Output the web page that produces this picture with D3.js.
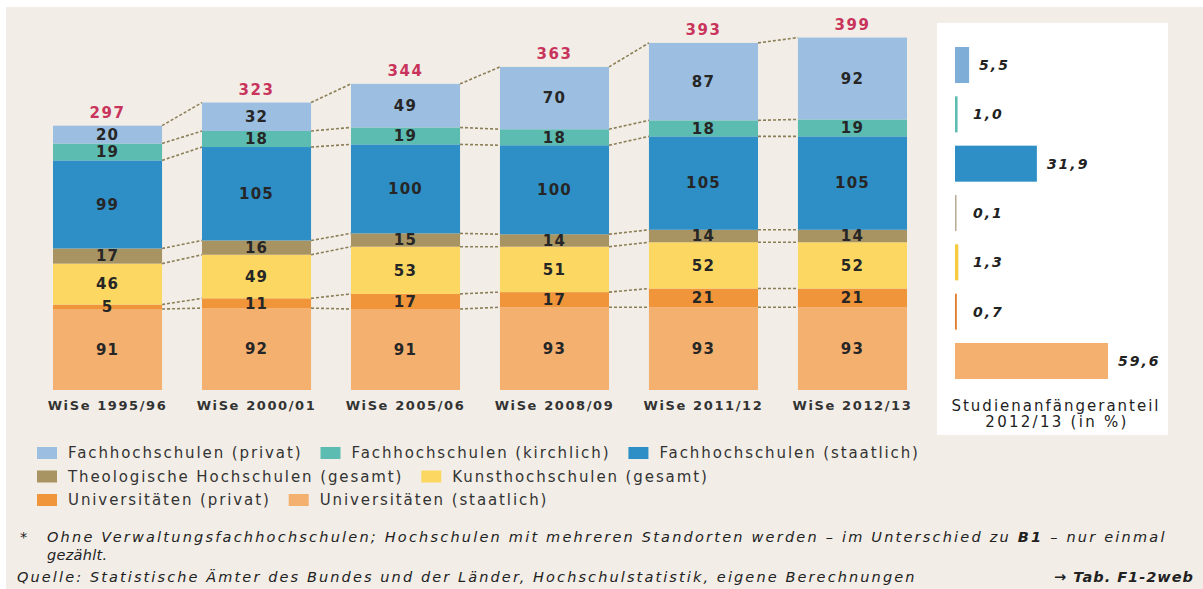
<!DOCTYPE html>
<html>
<head>
<meta charset="utf-8">
<script src="https://cdn.jsdelivr.net/npm/d3@7"></script>
<style>
  body { margin: 0; background: #fff; }
  svg { display: block; }
  text { font-family: "DejaVu Sans", sans-serif; }
</style>
</head>
<body>
<svg id="chart" width="1203" height="589"></svg>
<script>
// data
const semesters = ["WiSe 1995/96", "WiSe 2000/01", "WiSe 2005/06", "WiSe 2008/09", "WiSe 2011/12", "WiSe 2012/13"];
const seriesNames = [
    "Universitäten (staatlich)",
    "Universitäten (privat)",
    "Kunsthochschulen (gesamt)",
    "Theologische Hochschulen (gesamt)",
    "Fachhochschulen (staatlich)",
    "Fachhochschulen (kirchlich)",
    "Fachhochschulen (privat)"
];
const uniStaatlich = [91, 92, 91, 93, 93, 93];
const uniPrivat = [5, 11, 17, 17, 21, 21];
const kunst = [46, 49, 53, 51, 52, 52];
const theologisch = [17, 16, 15, 14, 14, 14];
const fhStaatlich = [99, 105, 100, 100, 105, 105];
const fhKirchlich = [19, 18, 19, 18, 18, 19];
const fhPrivat = [20, 32, 49, 70, 87, 92];
const totals = [297, 323, 344, 363, 393, 399];
// Studienanfängeranteil 2012/13 (in %), same order as seriesNames
const shares = [59.6, 0.7, 1.3, 0.1, 31.9, 1.0, 5.5];
const shareLabels = ["59,6", "0,7", "1,3", "0,1", "31,9", "1,0", "5,5"];

const colors = ["#f4b06f", "#f0953a", "#fcd862", "#a89462", "#2e8fc6", "#5cbcb1", "#9cbfe1"];
const panelColors = ["#f4b06f", "#e07c2a", "#f6cb3e", "#b8ab92", "#2e8fc6", "#5cbcb1", "#7eaed8"];

const legendRows = [
    ["Fachhochschulen (privat)", "Fachhochschulen (kirchlich)", "Fachhochschulen (staatlich)"],
    ["Theologische Hochschulen (gesamt)", "Kunsthochschulen (gesamt)"],
    ["Universitäten (privat)", "Universitäten (staatlich)"]
];

const columns = [uniStaatlich, uniPrivat, kunst, theologisch, fhStaatlich, fhKirchlich, fhPrivat];
const table = semesters.map((s, i) => {
    const row = { semester: s };
    seriesNames.forEach((n, k) => row[n] = columns[k][i]);
    return row;
});

// stretch a text to a target width through letter-spacing
const fit = (sel, width) => {
    const node = sel.node();
    const len = node.getComputedTextLength();
    const n = node.textContent.length;
    sel.attr("letter-spacing", ((width - len) / (n - 1)).toFixed(2));
    return sel;
};

const svg = d3.select("#chart");

svg.append("rect")
    .attr("x", 6).attr("y", 7)
    .attr("width", 1197).attr("height", 582)
    .attr("fill", "#f2eee7");

const x = d3.scaleBand()
    .domain(semesters)
    .range([53, 907])
    .paddingInner(0.268)
    .paddingOuter(0);

const y = d3.scaleLinear()
    .domain([0, 400])
    .range([390, 34]);

const color = d3.scaleOrdinal().domain(seriesNames).range(colors);

const stacked = d3.stack().keys(seriesNames)(table);

// dotted connectors between bars
const links = [];
stacked.forEach(layer => {
    for (let i = 0; i < semesters.length - 1; i++) {
        links.push({ a: layer[i], b: layer[i + 1] });
    }
});
svg.append("g")
    .selectAll("line")
    .data(links)
    .join("line")
    .attr("x1", d => x(d.a.data.semester) + x.bandwidth())
    .attr("x2", d => x(d.b.data.semester))
    .attr("y1", d => y(d.a[1]))
    .attr("y2", d => y(d.b[1]))
    .attr("stroke", "#8c7e57")
    .attr("stroke-width", 1.6)
    .attr("stroke-dasharray", "3,2");

const layers = svg.append("g")
    .selectAll("g")
    .data(stacked)
    .join("g")
    .attr("fill", d => color(d.key));

layers.selectAll("rect")
    .data(d => d)
    .join("rect")
    .attr("x", d => x(d.data.semester))
    .attr("y", d => y(d[1]))
    .attr("height", d => y(d[0]) - y(d[1]))
    .attr("width", x.bandwidth());

// segment values
svg.append("g")
    .selectAll("g")
    .data(stacked)
    .join("g")
    .selectAll("text")
    .data(d => d.map(v => ({ v, key: d.key })))
    .join("text")
    .attr("x", d => x(d.v.data.semester) + x.bandwidth() / 2)
    .attr("y", d => (y(d.v[0]) + y(d.v[1])) / 2)
    .attr("dy", "0.36em")
    .attr("text-anchor", "middle")
    .attr("font-size", 15)
    .attr("font-weight", "bold")
    .attr("letter-spacing", 1.2)
    .attr("fill", "#262626")
    .text(d => d.v.data[d.key]);

// totals
svg.append("g")
    .selectAll("text")
    .data(semesters)
    .join("text")
    .attr("x", d => x(d) + x.bandwidth() / 2)
    .attr("y", (d, i) => y(d3.sum(columns, c => c[i])) - 8)
    .attr("text-anchor", "middle")
    .attr("font-size", 15)
    .attr("font-weight", "bold")
    .attr("letter-spacing", 1.5)
    .attr("fill", "#c9345c")
    .text((d, i) => totals[i]);

// category axis
const gx = svg.append("g")
    .attr("transform", `translate(0,${y(0)})`)
    .call(d3.axisBottom(x).tickSize(0).tickPadding(11));
gx.select(".domain").remove();
gx.selectAll("text")
    .attr("font-family", "DejaVu Sans, sans-serif")
    .attr("font-size", 13)
    .attr("font-weight", "bold")
    .attr("letter-spacing", 1.6)
    .attr("fill", "#333");

// right panel
svg.append("rect")
    .attr("x", 937).attr("y", 23)
    .attr("width", 231).attr("height", 412)
    .attr("fill", "#fff");

const panelOrder = seriesNames.slice().reverse();
const py = d3.scaleBand()
    .domain(panelOrder)
    .range([47, 379])
    .paddingInner(0.27)
    .paddingOuter(0);
const px = d3.scaleLinear().domain([0, 60]).range([955, 1109]);
const share = n => shares[seriesNames.indexOf(n)];

svg.append("g")
    .selectAll("rect")
    .data(panelOrder)
    .join("rect")
    .attr("x", px(0))
    .attr("y", d => py(d))
    .attr("height", py.bandwidth())
    .attr("width", d => Math.max(px(share(d)) - px(0), 1.5))
    .attr("fill", d => panelColors[seriesNames.indexOf(d)]);

svg.append("g")
    .selectAll("text")
    .data(panelOrder)
    .join("text")
    .attr("x", d => Math.max(px(share(d)) + 10, px(0) + 18))
    .attr("y", d => py(d) + py.bandwidth() / 2)
    .attr("dy", "0.36em")
    .attr("font-size", 14)
    .attr("font-weight", "bold")
    .attr("font-style", "italic")
    .attr("letter-spacing", 2)
    .attr("fill", "#222")
    .text(d => shareLabels[seriesNames.indexOf(d)]);

const t1 = svg.append("text")
    .attr("x", 1056).attr("y", 411)
    .attr("text-anchor", "middle")
    .attr("font-size", 15)
    .attr("fill", "#222")
    .text("Studienanfängeranteil");
fit(t1, 207);
const t2 = svg.append("text")
    .attr("x", 1057).attr("y", 427)
    .attr("text-anchor", "middle")
    .attr("font-size", 15)
    .attr("fill", "#222")
    .text("2012/13 (in %)");
fit(t2, 141);

// legend, items flow left to right
const legend = svg.append("g");
legendRows.forEach((row, r) => {
    const cy = 453 + r * 23.5;
    let sx = 37;
    row.forEach(name => {
        legend.append("rect")
            .attr("x", sx).attr("y", cy - 6)
            .attr("width", 20).attr("height", 12)
            .attr("fill", color(name));
        const t = legend.append("text")
            .attr("x", sx + 31)
            .attr("y", cy)
            .attr("dy", "0.36em")
            .attr("font-size", 15)
            .attr("letter-spacing", 1.9)
            .attr("fill", "#333")
            .text(name);
        sx += 31 + t.node().getComputedTextLength() + 18;
    });
});

// notes
const notes = svg.append("g")
    .attr("font-size", 14.5)
    .attr("font-style", "italic")
    .attr("fill", "#222");
notes.append("text").attr("x", 20).attr("y", 542).attr("font-style", "normal").text("*");
const n1 = notes.append("text").attr("x", 47).attr("y", 542);
n1.append("tspan").text("Ohne Verwaltungsfachhochschulen; Hochschulen mit mehreren Standorten werden \u2013 im Unterschied zu ");
n1.append("tspan").attr("font-weight", "bold").text("B1");
n1.append("tspan").text(" \u2013 nur einmal");
fit(n1, 1117);
fit(notes.append("text").attr("x", 47).attr("y", 560).text("gezählt."), 60);
fit(notes.append("text").attr("x", 17).attr("y", 582)
    .text("Quelle: Statistische Ämter des Bundes und der Länder, Hochschulstatistik, eigene Berechnungen"), 897);
const src = notes.append("text").attr("x", 1194).attr("y", 582)
    .attr("text-anchor", "end")
    .attr("font-weight", "bold")
    .text("\u2192 Tab. F1-2web");
fit(src, 139);
</script>
</body>
</html>
